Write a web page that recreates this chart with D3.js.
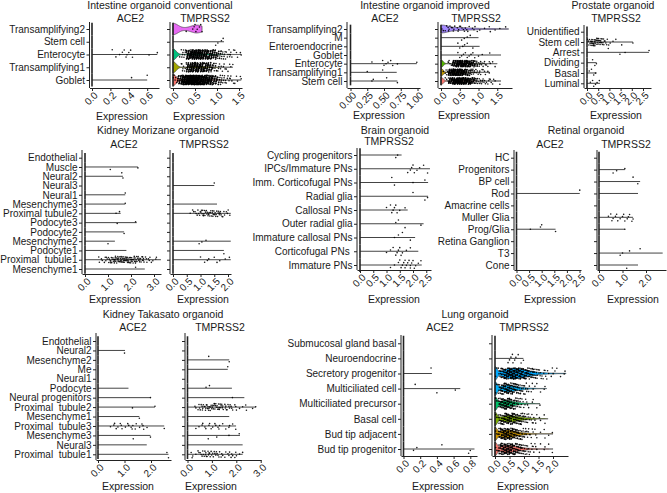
<!DOCTYPE html>
<html><head><meta charset="utf-8">
<script src="https://cdn.jsdelivr.net/npm/d3@7"></script>
<style>
body{margin:0;background:#fff}
svg text{font-family:"Liberation Sans",Arial,sans-serif;font-size:10.5px;fill:#1a1a1a}
svg .tick text{font-size:10px}
</style></head>
<body><svg width="667" height="493"></svg>
<script>
// ---------------- DATA ----------------
// Intestine organoid conventional
const convCats = ["Transamplifying2","Stem cell","Enterocyte","Transamplifying1","Goblet"];
const convAceMax = [0,0,0.71,0,0.6];
const convAcePts = [[],[],[0.22,0.26,0.3,0.33,0.35,0.37,0.38,0.4,0.42,0.44,0.62,0.71],[],[0.43,0.6]];
const convTmpMax = [0.66,1.16,1.55,1.36,1.55];
const convTmpPts = [[0.3,0.45,0.48,0.5,0.52,0.55,0.6,0.63,0.66],[0.97,1.02,1.1,1.14],[],[],[]];
const convTmpBins = [null,null,
  [0,2,8,40,60,60,55,45,35,28,15,8,6,4,3,2],
  [0,1,6,35,50,50,45,35,25,12,6,4,3,2],
  [5,30,70,90,95,90,80,65,50,30,15,8,5,4,3,2]];
const convTmpColors = ["#E76BF3",null,"#00BF7D","#A3A500","#F8766D"];
const convTmpZeros = [10,0,700,600,1000];
const convTmpBw = [0.12,0,0.07,0.07,0.07];

// Intestine organoid improved
const impCats = ["Transamplifying2","M","Enteroendocrine","Goblet","Enterocyte","Transamplifying1","Stem cell"];
const impAceMax = [0,0,0,0,0.99,0.69,0.7];
const impAcePts = [[],[],[],[],[0.32,0.48,0.5,0.53,0.56,0.6,0.63,0.7,0.99],[0.25,0.48],[0.32,0.34,0.54,0.7]];
const impTmpMax = [1.8,1.0,1.03,1.6,1.5,1.3,1.6];
const impTmpPts = [[],[0.55,0.62,0.7,0.78],[0.45,0.5,0.58,0.63,0.7,0.85],
  [0.45,0.5,0.55,0.6,0.65,0.7,0.75,0.8,0.85,0.9,1.0,1.1,1.3],[],[],[]];
const impTmpBins = [[2,3,4,4,4,3,3,2,2,2,1,1,1,1,1,1,0,1],null,null,null,
  [0,1,4,25,45,50,45,35,20,10,6,4,3,2,1],
  [1,6,35,50,50,45,30,15,8,5,4,3,2],
  [0,3,25,45,55,50,45,35,20,10,6,5,4,3,2,1]];
const impTmpColors = ["#A58AFF",null,null,null,"#53B400","#C49A00","#F8766D"];
const impTmpZeros = [30,0,0,0,600,600,600];
const impTmpBw = [0.16,0,0,0,0.055,0.055,0.055];

// Prostate organoid
const proCats = ["Unidentified","Stem cell","Arrest","Dividing","Basal","Luminal"];
const proMax = [0,2.05,2.77,0.43,0.43,0.58];
const proPts = [[],[1.55,2.05],[0.95,1.47,1.7,2.77],[0.25,0.35,0.42],[0.1,0.2,0.3,0.38],[0.15,0.25,0.3,0.38,0.45,0.55]];
const proBins = [null,[3,6,8,8,7,6,5,4,3,2,1,1,1],null,null,null,null];

// Kidney Morizane organoid
const morCats = ["Endothelial","Muscle","Neural2","Neural3","Neural1","Mesenchyme3","Proximal tubule2",
  "Podocyte3","Podocyte2","Mesenchyme2","Podocyte1","Proximal  tubule1","Mesenchyme1"];
const morAceMax = [0,2.3,1.65,0,1.75,1.75,1.55,2.25,1.7,1.3,1.8,3.3,2.6];
const morAcePts = [[],[1.1,2.3],[1.6,1.65],[],[1.75],[1.75],[1.35,1.5],[1.4,2.2],[1.7],[1.0],[],[],[2.2]];
const morAceBins = [null,null,null,null,null,null,null,null,null,null,null,
  [0,0,0,0,0,1,1,2,2,3,4,5,6,6,7,7,7,7,7,6,6,6,5,5,4,4,3,2,2,1,1,1],null];
const morTmpMax = [0,0,0,1.5,0,1.6,2.1,0,0,2.1,1.85,2.1,0];
const morTmpPts = [[],[],[],[1.5],[],[],[],[],[],[0.95,1.05,1.2],[1.85],[1.0,1.15,1.25,1.3,1.5,1.6,1.7,1.9,2.05],[]];
const morTmpBins = [null,null,null,null,null,null,
  [0,0,0,0,0,0,1,2,3,4,5,5,5,5,6,5,5,4,3,2,2],null,null,null,null,null,null];

// Brain organoid
const brainCats = ["Cycling progenitors","IPCs/Immature PNs","Imm. Corticofugal PNs","Radial glia","Callosal PNs",
  "Outer radial glia","Immature callosal PNs","Corticofugal PNs ","Immature PNs"];
const brainMax = [1.57,2.64,2.57,2.57,1.8,2.4,2.08,2.2,2.33];
const brainPts = [[1.35,1.42],[1.8,1.9,1.95,2.0,2.05,2.15,2.25,2.4,2.55],[1.2,1.3,2.0,2.45],[2.0,2.45,2.55],
  [1.0,1.15,1.2,1.25,1.3,1.35,1.4,1.5,1.7],[1.35,1.45,1.7,2.3],[1.3,1.45,1.6,1.9],
  [1.0,1.15,1.25,1.35,1.4,1.45,1.5,1.55,1.6,1.75,1.9],
  [1.15,1.3,1.45,1.5,1.55,1.6,1.65,1.7,1.7,1.75,1.8,1.85,1.9,1.9,1.95,2.0,2.05,2.1,2.2,2.3]];

// Retinal organoid
const retCats = ["HC","Progenitors","BP cell","Rod","Amacrine cells","Muller Glia","Prog/Glia","Retina Ganglion","T3","Cone"];
const retAceMax = [0,0,0,2.51,0,0,1.55,0,0,0];
const retAcePts = [[],[],[],[2.51],[],[],[0.55,0.95,1.0,1.55],[],[],[]];
const retTmpMax = [0,1.1,1.75,1.66,0,1.45,1.1,0,2.71,1.66];
const retTmpPts = [[],[0.6,0.75,1.1],[1.45,1.65],[],[],
  [0.4,0.5,0.55,0.6,0.7,0.75,0.8,0.9,1.0,1.05,1.1,1.2,1.25,1.3,1.4,1.45],[1.1],[],[0.9,1.0,1.3,1.75],[1.18]];

// Kidney Takasato organoid
const takCats = ["Endothelial","Neural2","Mesenchyme2","Me","Neural1","Podocyte","Neural progenitors",
  "Proximal  tubule2","Mesenchyme1","Proximal  tubule3","Mesenchyme3","Neural3","Proximal  tubule1"];
const takAceMax = [0,1.02,0,0,0,1.15,1.98,2.15,1.56,2.5,1.98,1.84,2.66];
const takAcePts = [[],[1.0],[],[],[],[],[1.98],[1.3,2.15],[1.56],[2.5],[1.33,1.98],[],[2.6,2.66]];
const takAceBins = [null,null,null,null,null,null,null,null,null,
  [0,0,0,0,1,1,2,1,2,1,1,2,2,1,2,1,2,1,1],null,null,null];
const takTmpMax = [0,0,1.71,1.65,0,1.82,2.33,2.8,1.71,1.99,2.15,2.26,2.26];
const takTmpPts = [[],[],[0.87,1.71],[1.65],[],[0.76,0.9],[1.84],[],[],[],[0.85,1.2,1.7,2.12],[],[0.15]];
const takTmpBins = [null,null,null,null,null,null,null,
  [0,0,0,2,3,3,4,4,5,5,5,5,5,5,4,4,3,3,2,2,1,1,1,1,1,0,1,1],null,
  [0,0,0,1,1,1,1,2,1,2,1,2,2,1,1,1,1,1,1,1],null,null,
  [0,1,1,1,2,3,3,4,4,4,3,3,3,2,2,2,2,2,2,2,1,1,1]];

// Lung organoid
const lungCats = ["Submucosal gland basal","Neuroendocrine","Secretory progenitor","Multiciliated cell",
  "Multiciliated precursor","Basal cell","Bud tip adjacent","Bud tip progenitor"];
const lungAceMax = [0,0,0.34,0.68,0,0,0,0.85];
const lungAcePts = [[],[],[0.33],[0.14,0.4,0.62],[],[],[],[0.12,0.16,0.46,0.78,0.8]];
const lungTmpMax = [0,0.98,2.45,1.78,1.55,1.83,2.0,2.0];
const lungTmpPts = [[],[0.45,0.5,0.55,0.6,0.62,0.68,0.72,0.8,0.9,0.98],[],[],[],[],[],[]];
const lungTmpBins = [null,null,
  [2,6,14,20,24,26,26,25,22,20,17,14,11,9,7,5,4,3,2,2,2,1,1,1,1],
  [2,8,16,20,20,18,15,12,9,7,5,3,2,2,1,1,1,1],
  [2,10,18,22,20,17,13,9,6,4,3,2,1,1,1,1],
  [2,8,15,18,20,20,18,15,12,9,7,5,4,3,2,2,1,1],
  [2,12,22,26,25,22,18,14,10,8,6,4,3,2,2,1,1,1,1,1],
  [2,12,22,26,26,24,20,16,12,9,7,5,4,3,2,2,1,1,1,1]];
const lungTmpColors = [null,null,"#00A9FF","#00B0F6","#00BE67","#7CAE00","#CD9600","#F8766D"];
const lungTmpZeros = [0,0,55,65,70,70,70,75];
const lungTmpBw = [0,0,0.07,0.07,0.07,0.07,0.07,0.07];

// ---------------- LAYOUT ----------------
const titles = [
 ["Intestine organoid conventional",160,8.5],["ACE2",130.5,21.5],["TMPRSS2",205,21.5],
 ["Intestine organoid improved",425,8.5],["ACE2",385,21.5],["TMPRSS2",476,21.5],
 ["Prostate organoid",613,8.5],["TMPRSS2",616,21.5],
 ["Kidney Morizane organoid",158,133.5],["ACE2",124,148],["TMPRSS2",204,148],
 ["Brain organoid",395,133.5],["TMPRSS2",389,145],
 ["Retinal organoid",586,134],["ACE2",550,147.5],["TMPRSS2",626,147.5],
 ["Kidney Takasato organoid",163,318],["ACE2",133,331],["TMPRSS2",220,331],
 ["Lung organoid",475,317.5],["ACE2",440,331],["TMPRSS2",524,331]];

const svg = d3.select("svg");
const frac = v => v - Math.floor(v);

function binVals(bins, max){
  const out = [];
  if(!bins) return out;
  bins.forEach((c,k) => {
    for(let j=0;j<c;j++){
      const v = (k + frac((j+1)*0.6180339887 + k*0.2718)) * 0.1;
      out.push(Math.max(0.004, Math.min(v, max)));
    }
  });
  return out;
}

function violin(vals, n0, bw, max, half){
  const n = 160, ker = u => Math.exp(-0.5*u*u);
  const xs = d3.range(n+1).map(i => max*i/n);
  const d = xs.map(t => { let s = n0*ker(t/bw); for(const v of vals) s += ker((t-v)/bw); return s; });
  const dm = d3.max(d);
  return xs.map((t,i) => [t, half*d[i]/dm]);
}

function drawSub(S){
  const L = S.lay;
  const x = d3.scaleLinear().domain([-(L.x0-L.ax)/L.ppu, (L.xe-L.x0)/L.ppu]).range([L.ax, L.xe]);
  const y = d3.scalePoint().domain(S.cats).range([L.c0, L.c1]);
  const step = y.step(), half = 0.45*step;
  const g = svg.append("g");

  // axes
  const gy = g.append("g").attr("transform",`translate(${L.ax},0)`)
    .call(d3.axisLeft(y).tickSize(3).tickSizeOuter(0).tickFormat(S.labels ? (d=>d) : (()=>"")));
  gy.select(".domain").remove();
  gy.attr("color","#222");
  gy.selectAll("text").style("white-space","pre").attr("x",-4.5);
  g.append("line").attr("x1",L.ax).attr("x2",L.ax).attr("y1",L.top).attr("y2",L.bot)
    .attr("stroke","#222").attr("stroke-width",1);
  const gx = g.append("g").attr("transform",`translate(0,${L.bot})`)
    .call(d3.axisBottom(x).tickValues(L.ticks).tickFormat(d3.format(L.fmt)).tickSize(3).tickSizeOuter(0));
  gx.attr("color","#222");
  gx.selectAll("text").attr("x",0).attr("y",0).attr("dy",0).attr("text-anchor","end")
    .attr("transform","translate(6,8) rotate(-45)");
  g.append("text").attr("x",L.ex).attr("y",L.ey).attr("text-anchor","middle").text("Expression");

  // marks
  S.cats.forEach((cat,i) => {
    const cy = y(cat);
    const vals = ((S.pts && S.pts[i]) || []).concat(binVals(S.bins && S.bins[i], S.max[i]));
    const col = S.colors && S.colors[i];
    if(col && S.max[i] > 0){
      const prof = violin(vals, S.zeros[i], S.bw[i], S.max[i], half);
      g.append("path")
        .attr("d", d3.area().x(p=>x(p[0])).y0(p=>cy-p[1]).y1(p=>cy+p[1])(prof))
        .attr("fill",col).attr("stroke","#333").attr("stroke-width",0.6);
    } else if(S.max[i] > 0){
      g.append("line").attr("x1",x(0)).attr("x2",x(S.max[i])).attr("y1",cy).attr("y2",cy)
        .attr("stroke","#444").attr("stroke-width",1);
    }
    g.append("line").attr("x1",x(0)).attr("x2",x(0)).attr("y1",cy-step/2).attr("y2",cy+step/2)
      .attr("stroke","#222").attr("stroke-width",1.6);
    g.selectAll(null).data(vals).join("circle")
      .attr("cx", v => x(v))
      .attr("cy", (v,j) => cy + (frac((j+1)*0.7548776662 + i*0.1234) - 0.5)*0.74*step)
      .attr("r",0.8).attr("fill","#000").attr("fill-opacity",0.9);
  });
}

const R1 = {top:22,bot:88}, R1b={top:25,bot:88};
const subs = [
 {cats:convCats,max:convAceMax,pts:convAcePts,labels:true,
  lay:{...R1,ax:89.5,x0:92,ppu:92,xe:159,c0:29,c1:80,ticks:[0,0.2,0.4,0.6],fmt:".1f",ex:122,ey:119.5}},
 {cats:convCats,max:convTmpMax,pts:convTmpPts,bins:convTmpBins,colors:convTmpColors,zeros:convTmpZeros,bw:convTmpBw,
  lay:{...R1,ax:170,x0:173,ppu:44,xe:242,c0:29,c1:80,ticks:[0,0.5,1,1.5],fmt:".1f",ex:199,ey:119.5}},
 {cats:impCats,max:impAceMax,pts:impAcePts,labels:true,
  lay:{...R1,ax:347,x0:350.5,ppu:67,xe:420,c0:29,c1:81,ticks:[0,0.25,0.5,0.75,1],fmt:".2f",ex:379,ey:119}},
 {cats:impCats,max:impTmpMax,pts:impTmpPts,bins:impTmpBins,colors:impTmpColors,zeros:impTmpZeros,bw:impTmpBw,
  lay:{...R1,ax:438,x0:441,ppu:37.5,xe:512,c0:29,c1:81,ticks:[0,0.5,1,1.5],fmt:".1f",ex:464,ey:119}},
 {cats:proCats,max:proMax,pts:proPts,bins:proBins,labels:true,
  lay:{...R1b,ax:584,x0:587,ppu:22.4,xe:651,c0:31.7,c1:83.3,ticks:[0,0.5,1,1.5,2,2.5],fmt:".1f",ex:616,ey:119}},
 {cats:morCats,max:morAceMax,pts:morAcePts,bins:morAceBins,labels:true,
  lay:{top:150,bot:274,ax:82,x0:85,ppu:23,xe:161,c0:157.7,c1:269,ticks:[0,1,2,3],fmt:".1f",ex:115,ey:302.5}},
 {cats:morCats,max:morTmpMax,pts:morTmpPts,bins:morTmpBins,
  lay:{top:150,bot:274,ax:170,x0:173,ppu:27.5,xe:231,c0:157.7,c1:269,ticks:[0,0.5,1,1.5,2],fmt:".1f",ex:203,ey:302.5}},
 {cats:brainCats,max:brainMax,pts:brainPts,labels:true,
  lay:{top:148,bot:270,ax:357,x0:360,ppu:26.5,xe:431,c0:155,c1:265,ticks:[0,0.5,1,1.5,2,2.5],fmt:".1f",ex:394,ey:302.5}},
 {cats:retCats,max:retAceMax,pts:retAcePts,labels:true,
  lay:{top:150,bot:270,ax:514,x0:516.5,ppu:25.2,xe:581,c0:157.7,c1:265,ticks:[0,0.5,1,1.5,2,2.5],fmt:".1f",ex:550,ey:302.5}},
 {cats:retCats,max:retTmpMax,pts:retTmpPts,
  lay:{top:150,bot:270,ax:597,x0:599,ppu:23.5,xe:666,c0:157.7,c1:265,ticks:[0,1,2],fmt:".1f",ex:633,ey:302.5}},
 {cats:takCats,max:takAceMax,pts:takAcePts,bins:takAceBins,labels:true,
  lay:{top:333,bot:460,ax:96,x0:98,ppu:26.5,xe:171,c0:341,c1:454.3,ticks:[0,1,2],fmt:".1f",ex:128,ey:489.5}},
 {cats:takCats,max:takTmpMax,pts:takTmpPts,bins:takTmpBins,
  lay:{top:333,bot:460,ax:185,x0:187.5,ppu:24.4,xe:261,c0:341,c1:454.3,ticks:[0,1,2,3],fmt:".1f",ex:211,ey:489.5}},
 {cats:lungCats,max:lungAceMax,pts:lungAcePts,labels:true,
  lay:{top:335,bot:456,ax:401,x0:403.5,ppu:83.5,xe:477,c0:343.3,c1:449,ticks:[0,0.2,0.4,0.6,0.8],fmt:".1f",ex:438,ey:489.5}},
 {cats:lungCats,max:lungTmpMax,pts:lungTmpPts,bins:lungTmpBins,colors:lungTmpColors,zeros:lungTmpZeros,bw:lungTmpBw,
  lay:{top:335,bot:456,ax:492,x0:495,ppu:29,xe:568,c0:343.3,c1:449,ticks:[0,0.5,1,1.5,2],fmt:".1f",ex:523,ey:489.5}}
];
subs.forEach(drawSub);

svg.append("g").selectAll("text").data(titles).join("text")
  .attr("x",d=>d[1]).attr("y",d=>d[2]).attr("text-anchor","middle").text(d=>d[0]);
</script></body></html>
